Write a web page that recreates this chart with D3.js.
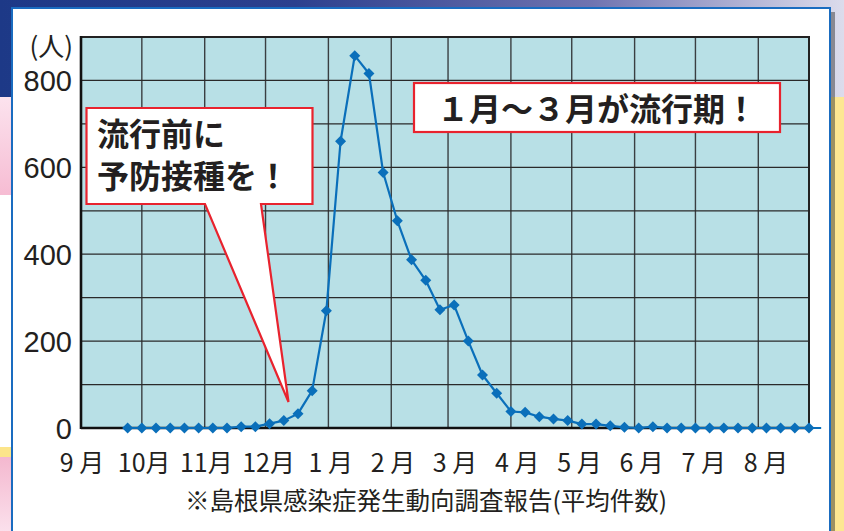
<!DOCTYPE html>
<html><head><meta charset="utf-8">
<script src="https://cdn.jsdelivr.net/npm/d3@7"></script>
<style>
html,body{margin:0;padding:0;background:#fff;}
svg{display:block;}
text{font-family:"Noto Sans CJK JP","Noto Sans",sans-serif;}
</style></head>
<body>
<svg id="c" width="844" height="531"></svg>
<script>
// ISO week numbers of the season (2018-W39 … 2019-W35)
const weeks = [39,40,41,42,43,44,45,46,47,48,49,50,51,52,
  1,2,3,4,5,6,7,8,9,10,11,12,13,14,15,16,17,18,19,20,21,22,23,24,25,26,27,28,29,30,31,32,33,34,35];
// average reports per sentinel (people)
const cases = [0,0,0,0,0,0,0,0,3,3,10,17,33,86,
  270,660,857,816,588,477,387,340,272,283,200,122,80,38,36,26,21,17,9,9,5,1.5,0,3,
  0,0,0,0,0,0,0,0,0,0,0];
const monthLabels = ["9 月","10月","11月","12月","1 月","2 月","3 月","4 月","5 月","6 月","7 月","8 月"];
const yLabelTicks = [0,200,400,600,800];
const yGridTicks = [100,200,300,400,500,600,700,800];
const unitLabel = "(人)";
const note1 = ["流行前に","予防接種を！"];
const note2 = "１月～３月が流行期！";
const source = "※島根県感染症発生動向調査報告(平均件数)";

function weekMonday(w){
  // weeks >= 36 belong to 2018 (ISO week 1 Monday = 2018-01-01), others to 2019 (2018-12-31)
  const base = w >= 36 ? Date.UTC(2018,0,1) : Date.UTC(2018,11,31);
  return new Date(base + (w-1)*7*86400000);
}
const data = weeks.map((w,i)=>({date:weekMonday(w), v:cases[i]}));

const svg = d3.select("#c");
const defs = svg.append("defs");
const g1 = defs.append("linearGradient").attr("id","topg").attr("x1","0").attr("x2","1");
[["0%","#1d3987"],["35%","#2c408e"],["70%","#6f73b0"],["100%","#dcdcec"]].forEach(s=>g1.append("stop").attr("offset",s[0]).attr("stop-color",s[1]));
const g2 = defs.append("linearGradient").attr("id","pink1").attr("x1","0").attr("x2","0").attr("y1","0").attr("y2","1");
[["0%","#fce3ee"],["100%","#f6bcd3"]].forEach(s=>g2.append("stop").attr("offset",s[0]).attr("stop-color",s[1]));
const g3 = defs.append("linearGradient").attr("id","pink2").attr("x1","0").attr("x2","0").attr("y1","0").attr("y2","1");
[["0%","#f4b8cf"],["100%","#fbe0ec"]].forEach(s=>g3.append("stop").attr("offset",s[0]).attr("stop-color",s[1]));

// page background
svg.append("rect").attr("x",0).attr("y",0).attr("width",844).attr("height",531).attr("fill","#fde792");
svg.append("rect").attr("x",0).attr("y",0).attr("width",844).attr("height",97).attr("fill","url(#topg)");
svg.append("rect").attr("x",0).attr("y",97).attr("width",14).attr("height",98).attr("fill","url(#pink1)");
svg.append("rect").attr("x",0).attr("y",195).attr("width",14).attr("height",252).attr("fill","#ffffff");
svg.append("rect").attr("x",0).attr("y",447).attr("width",14).attr("height",10).attr("fill","#fce58a");
svg.append("rect").attr("x",0).attr("y",457).attr("width",14).attr("height",74).attr("fill","url(#pink2)");
// card shadow + card
svg.append("rect").attr("x",831).attr("y",12).attr("width",4).attr("height",530).attr("fill","rgba(40,40,40,0.45)");
svg.append("rect").attr("x",12).attr("y",8).attr("width",818).attr("height",540)
  .attr("fill","#fff").attr("stroke","#1a6cc0").attr("stroke-width",2);

// scales
const x = d3.scaleUtc().domain([new Date(Date.UTC(2018,8,1)), new Date(Date.UTC(2019,7,26))]).range([81,809]);
const y = d3.scaleLinear().domain([0,900]).range([428,37]);
const xl = d3.scalePoint().domain(monthLabels).range([82,766]);

const [X0,X1] = x.range(), [Y0,Y1] = y.range();
svg.append("rect").attr("x",X0).attr("y",Y1).attr("width",X1-X0).attr("height",Y0-Y1).attr("fill","#b8e0e6");

// grid
const months = d3.utcMonth.range(new Date(Date.UTC(2018,9,1)), new Date(Date.UTC(2019,7,2)));
svg.append("g").selectAll("line").data(months).join("line")
  .attr("x1",d=>x(d)).attr("x2",d=>x(d)).attr("y1",Y1).attr("y2",Y0)
  .attr("stroke","#3a3f42").attr("stroke-width",1.4);
svg.append("g").selectAll("line").data(yGridTicks).join("line")
  .attr("x1",X0).attr("x2",X1).attr("y1",d=>y(d)).attr("y2",d=>y(d))
  .attr("stroke","#2a2a2a").attr("stroke-width",1.3);
// frame
svg.append("rect").attr("x",X0).attr("y",Y1).attr("width",X1-X0).attr("height",Y0-Y1)
  .attr("fill","none").attr("stroke","#222").attr("stroke-width",2);
svg.append("line").attr("x1",X0).attr("x2",X0).attr("y1",Y1-1).attr("y2",Y0+1).attr("stroke","#111").attr("stroke-width",2.6);
svg.append("line").attr("x1",X0).attr("x2",X1).attr("y1",Y0).attr("y2",Y0).attr("stroke","#111").attr("stroke-width",2.4);

// y labels
svg.append("g").selectAll("text").data(yLabelTicks).join("text")
  .attr("x",72).attr("y",d=>y(d)+10.5).attr("text-anchor","end")
  .style("font-family","'Liberation Sans',Arial,sans-serif")
  .attr("font-size",29).attr("fill","#231f20").text(d=>d);
svg.append("text").attr("x",73).attr("y",55.5).attr("text-anchor","end")
  .attr("font-size",26).attr("fill","#231f20").text(unitLabel);

// x labels
svg.append("g").selectAll("text").data(monthLabels).join("text")
  .attr("x",d=>xl(d)).attr("y",472).attr("text-anchor","middle")
  .attr("font-size",25).attr("fill","#231f20").text(d=>d);

// source note
svg.append("text").attr("x",426).attr("y",510).attr("text-anchor","middle")
  .attr("font-size",24.5).attr("fill","#231f20").text(source);

// series line
const line = d3.line().x(d=>x(d.date)).y(d=>y(d.v));
const last = data[data.length-1];
svg.append("line").attr("x1",x(last.date)).attr("x2",x(new Date(Date.UTC(2019,8,1))))
  .attr("y1",y(0)).attr("y2",y(0)).attr("stroke","#0a6fba").attr("stroke-width",2);
svg.append("path").datum(data).attr("d",line).attr("fill","none")
  .attr("stroke","#0a6fba").attr("stroke-width",2.2).attr("stroke-linejoin","round");
svg.append("g").selectAll("path").data(data).join("path")
  .attr("transform",d=>`translate(${x(d.date)},${y(d.v)})`)
  .attr("d","M0,-5.5L5.5,0L0,5.5L-5.5,0Z")
  .attr("fill","#0a6fba");

// callout 1 (speech bubble)
const bub = {l:86.5,t:108,r:312.5,b:204, tl:205, tr:261, tipx:288.5, tipy:402};
svg.append("path")
  .attr("d",`M${bub.l},${bub.t}H${bub.r}V${bub.b}H${bub.tr}L${bub.tipx},${bub.tipy}L${bub.tl},${bub.b}H${bub.l}Z`)
  .attr("fill","#fff").attr("stroke","#e8232e").attr("stroke-width",2.2).attr("stroke-linejoin","miter");
svg.append("g").selectAll("text").data(note1).join("text")
  .attr("x",97).attr("y",(d,i)=>146+i*42).attr("font-size",32).attr("font-weight",700)
  .attr("fill","#231f20").text(d=>d);

// callout 2
svg.append("rect").attr("x",414).attr("y",83).attr("width",366).attr("height",49)
  .attr("fill","#fff").attr("stroke","#e8232e").attr("stroke-width",2.2);
svg.append("text").attr("x",597).attr("y",121).attr("text-anchor","middle")
  .attr("font-size",32).attr("font-weight",700).attr("fill","#231f20").text(note2);
</script>
</body></html>
